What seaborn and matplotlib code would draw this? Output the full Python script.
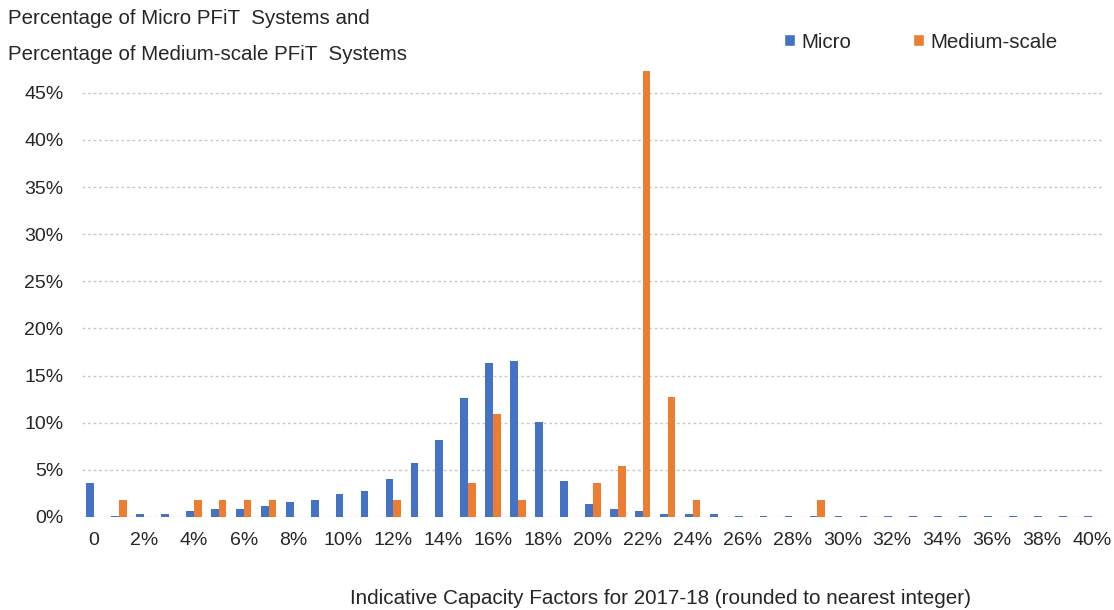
import pandas as pd
import seaborn as sns
import matplotlib.pyplot as plt
from matplotlib.patches import Patch
from matplotlib.ticker import PercentFormatter

# capacity factor categories 0..40 (%)
cats = list(range(41))
micro = [3.6, 0.15, 0.35, 0.35, 0.64, 0.85, 0.85, 1.17, 1.55, 1.83,
         2.4, 2.8, 4.0, 5.7, 8.2, 12.6, 16.3, 16.5, 10.1, 3.8,
         1.35, 0.8, 0.6, 0.3, 0.3, 0.3, 0.1, 0.1, 0.1, 0.1,
         0.1, 0.1, 0.1, 0.1, 0.1, 0.1, 0.1, 0.1, 0.1, 0.1, 0.1]
medium = [0, 1.82, 0, 0, 1.82, 1.82, 1.82, 1.82, 0, 0,
          0, 0, 1.82, 0, 0, 3.64, 10.91, 1.82, 0, 0,
          3.64, 5.45, 47.27, 12.73, 1.82, 0, 0, 0, 0, 1.82,
          0, 0, 0, 0, 0, 0, 0, 0, 0, 0, 0]
series = ['Micro', 'Medium-scale']
colors = ['#4472C4', '#ED7D31']
tick_labels = ['0' if c == 0 else (f'{c}%' if c % 2 == 0 else '') for c in cats]

df = pd.DataFrame({'cf': cats * 2,
                   'series': [series[0]] * len(cats) + [series[1]] * len(cats),
                   'pct': micro + medium})

sns.set_style('white')
plt.rcParams['font.family'] = ['Liberation Sans', 'DejaVu Sans']

fig = plt.figure(figsize=(11.14, 6.10), dpi=100)
ax = fig.add_axes([0.0732, 0.1525, 0.918, 0.731])

sns.barplot(data=df, x='cf', y='pct', hue='series', hue_order=series,
            palette=colors, saturation=1, width=0.62, errorbar=None, linewidth=0,
            legend=False, ax=ax)

ax.set_ylim(0, 47.3)
ax.set_yticks(range(0, 50, 5))
ax.yaxis.set_major_formatter(PercentFormatter(decimals=0))
ax.set_xticks(range(len(cats)))
ax.set_xticklabels(tick_labels)
ax.tick_params(axis='both', length=0, labelsize=14)
ax.tick_params(axis='y', pad=13)
ax.tick_params(axis='x', pad=11)
ax.grid(axis='y', color='#c8c8c8', linestyle=(0, (2, 2)), linewidth=1)
ax.set_axisbelow(True)
for s in ax.spines.values():
    s.set_visible(False)
ax.set_xlabel('')
ax.set_ylabel('')

fig.text(8 / 1114, 1 - 19 / 610, 'Percentage of Micro PFiT  Systems and',
         fontsize=14.8, va='center', ha='left')
fig.text(8 / 1114, 1 - 54 / 610, 'Percentage of Medium-scale PFiT  Systems',
         fontsize=14.8, va='center', ha='left')
fig.text(660 / 1114, 1 - 598 / 610,
         'Indicative Capacity Factors for 2017-18 (rounded to nearest integer)',
         fontsize=14.9, va='center', ha='center')

handles = [Patch(facecolor=c, label=s) for c, s in zip(colors, series)]
fig.legend(handles=handles, loc='center left', bbox_to_anchor=(765 / 1114, 1 - 42 / 610),
           ncol=2, frameon=False, fontsize=14.8, handlelength=0.55, handleheight=0.55,
           handletextpad=0.3, columnspacing=3.0)

fig.savefig('out.png', dpi=100)
